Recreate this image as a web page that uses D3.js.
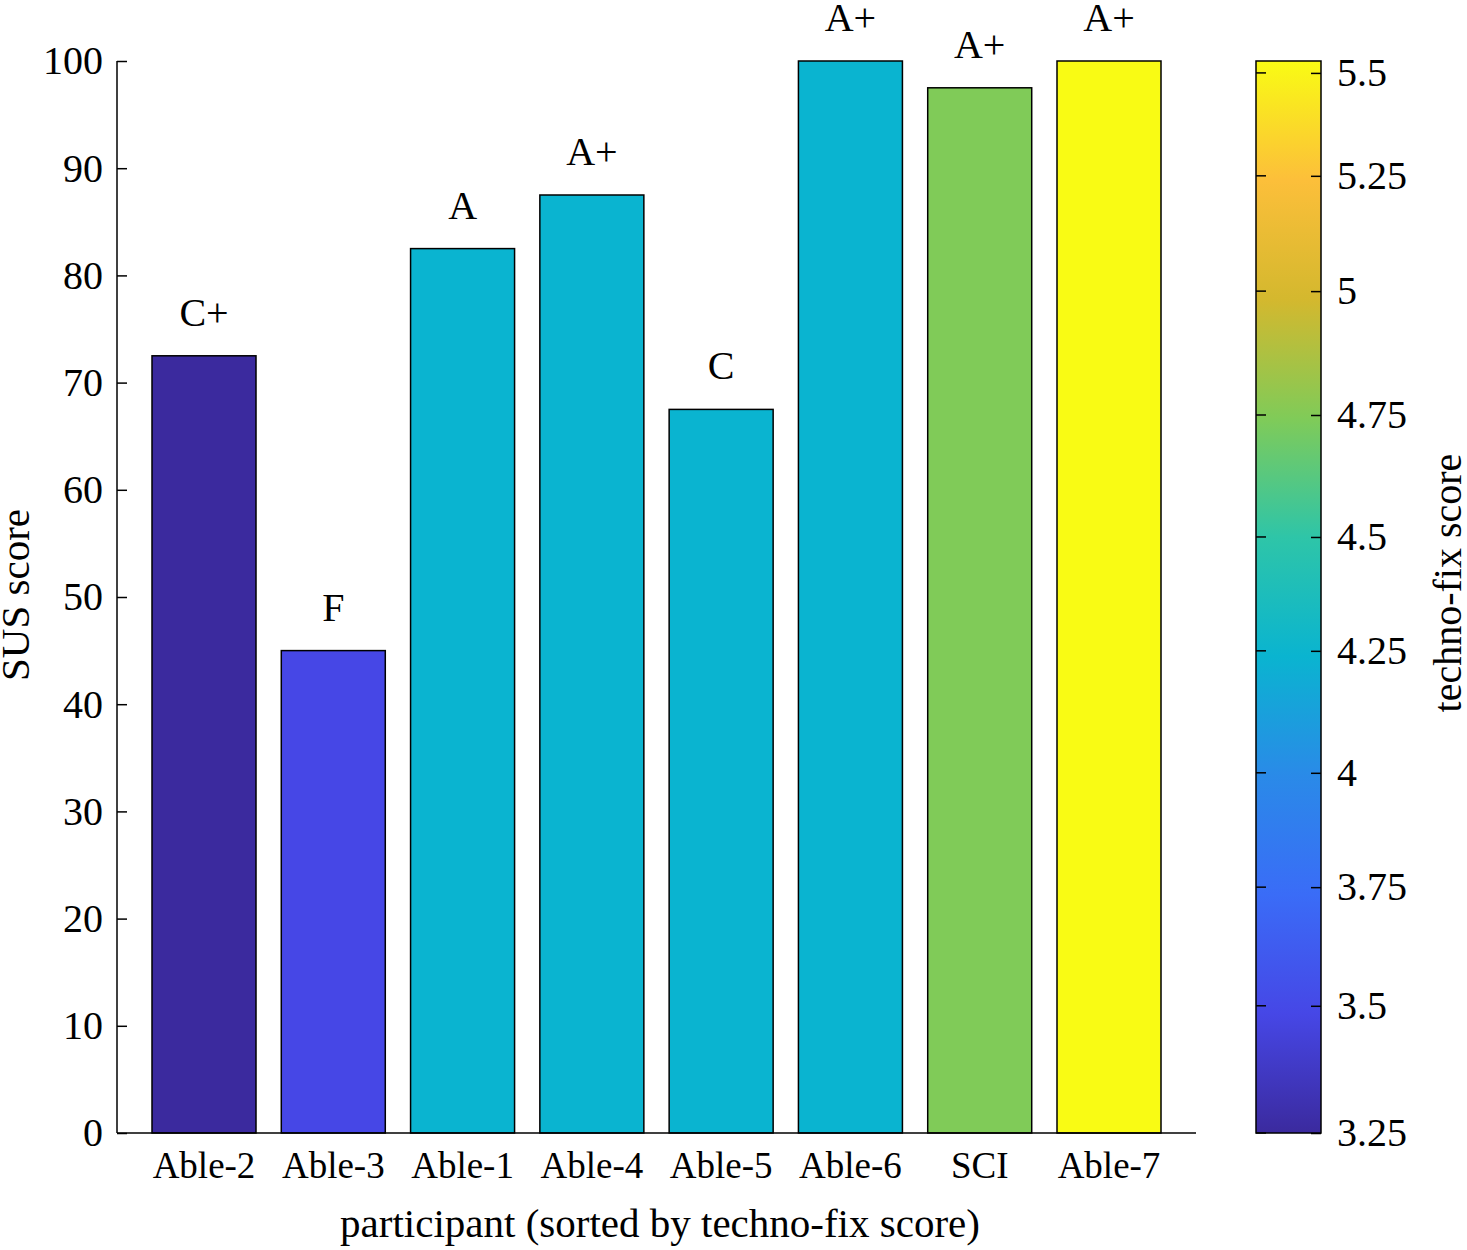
<!DOCTYPE html>
<html><head><meta charset="utf-8">
<script src="https://cdn.jsdelivr.net/npm/d3@7"></script>
<style>body{margin:0;background:#fff}text{font-family:"Liberation Serif","DejaVu Serif",serif;fill:#000}</style>
</head><body><svg id="c" width="1467" height="1250"></svg>
<script>
const participants=["Able-2","Able-3","Able-1","Able-4","Able-5","Able-6","SCI","Able-7"];
const susScores=[72.5,45,82.5,87.5,67.5,100,97.5,100];
const grades=["C+","F","A","A+","C","A+","A+","A+"];
const technoFix=[3.25,3.5,4.25,4.25,4.25,4.25,4.75,5.5];
const yTicks=[0,10,20,30,40,50,60,70,80,90,100];
const cbTickValues=[3.25,3.517,3.766,4.006,4.262,4.501,4.757,5.017,5.259,5.475];
const cbTickLabels=["3.25","3.5","3.75","4","4.25","4.5","4.75","5","5.25","5.5"];
const cmapStops=[3.25,3.5,3.75,4,4.25,4.5,4.75,5,5.25,5.5];
const cmapColors=["#3b2a9e","#4647e6","#3a6cf7","#2a8ae8","#0ab4d0","#2ec5a8","#80cb58","#d4b82e","#fcbf3a","#f9fb14"];

const svg=d3.select("#c");
const y=d3.scaleLinear().domain([0,100]).range([1133,61]);
const xi=d3.scaleLinear().domain([0,7]).range([204,1109]);
const color=d3.scaleLinear().domain(cmapStops).range(cmapColors).interpolate(d3.interpolateRgb);
const bw=104;

svg.selectAll("rect.bar").data(participants).join("rect")
 .attr("x",(d,i)=>xi(i)-bw/2).attr("width",bw)
 .attr("y",(d,i)=>y(susScores[i])).attr("height",(d,i)=>y(0)-y(susScores[i]))
 .attr("fill",(d,i)=>color(technoFix[i])).attr("stroke","#000").attr("stroke-width",1.5);
svg.selectAll("text.grade").data(grades).join("text")
 .attr("x",(d,i)=>xi(i)).attr("y",(d,i)=>y(susScores[i])-30)
 .attr("text-anchor","middle").attr("font-size",40).text(d=>d);

const ya=svg.append("g").attr("transform","translate(117,0)")
 .call(d3.axisLeft(y).tickValues(yTicks).tickSize(-10).tickPadding(14));
ya.selectAll("text").attr("font-size",40).style("font-family","Liberation Serif");
ya.select(".domain").attr("d","M0,1133V61");
ya.selectAll("line,path").attr("stroke","#000").attr("stroke-width",1.5);
svg.append("line").attr("x1",117).attr("x2",1196).attr("y1",1133).attr("y2",1133).attr("stroke","#000").attr("stroke-width",1.5);
svg.selectAll("text.xl").data(participants).join("text")
 .attr("x",(d,i)=>xi(i)).attr("y",1178).attr("text-anchor","middle").attr("font-size",37).text(d=>d);
svg.append("text").attr("x",660).attr("y",1237).attr("text-anchor","middle").attr("font-size",41).text("participant (sorted by techno-fix score)");
svg.append("text").attr("transform","translate(29,595) rotate(-90)").attr("text-anchor","middle").attr("font-size",41).text("SUS score");

const cy=d3.scaleLinear().domain([3.25,5.5]).range([1133,61]);
const defs=svg.append("defs");
const g=defs.append("linearGradient").attr("id","cb").attr("x1",0).attr("y1",1).attr("x2",0).attr("y2",0);
cmapStops.forEach((t,i)=>g.append("stop").attr("offset",(t-3.25)/2.25).attr("stop-color",cmapColors[i]));
svg.append("rect").attr("x",1256).attr("y",61).attr("width",65).attr("height",1072).attr("fill","url(#cb)").attr("stroke","#000").attr("stroke-width",1.5);
const ca=svg.append("g").attr("transform","translate(1321,0)")
 .call(d3.axisRight(cy).tickValues(cbTickValues).tickFormat((d,i)=>cbTickLabels[i]).tickSize(-10).tickPadding(16));
ca.select(".domain").remove();
ca.selectAll("line").attr("stroke","#000").attr("stroke-width",1.5);
ca.selectAll("text").attr("font-size",40).style("font-family","Liberation Serif");
svg.selectAll("line.lt").data(cbTickValues).join("line").attr("x1",1256).attr("x2",1266)
 .attr("y1",d=>cy(d)).attr("y2",d=>cy(d)).attr("stroke","#000").attr("stroke-width",1.5);
svg.append("text").attr("transform","translate(1461,583) rotate(-90)").attr("text-anchor","middle").attr("font-size",40).text("techno-fix score");
</script></body></html>
